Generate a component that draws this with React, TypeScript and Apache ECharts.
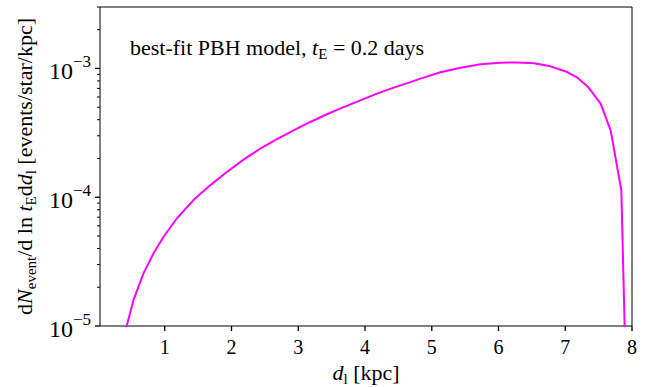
import React, { useEffect, useRef } from "react";
import * as echarts from "echarts";

// distance d_l [kpc]
const distances = [0.4, 0.53, 0.68, 0.83, 0.98, 1.18, 1.43, 1.68, 1.93, 2.18, 2.43, 2.68, 2.93, 3.18, 3.43, 3.68, 3.93, 4.18, 4.43, 4.68, 4.83, 5.13, 5.43, 5.73, 6.03, 6.28, 6.53, 6.78, 7.03, 7.18, 7.35, 7.53, 7.68, 7.84, 7.92];
// dN_event / dln t_E dd_l [events/star/kpc]
const rates = [8.7e-6, 1.58e-5, 2.55e-5, 3.65e-5, 4.91e-5, 6.84e-5, 9.5e-5, 1.236e-4, 1.57e-4, 1.96e-4, 2.38e-4, 2.82e-4, 3.3e-4, 3.84e-4, 4.41e-4, 5.01e-4, 5.65e-4, 6.37e-4, 7.1e-4, 7.83e-4, 8.34e-4, 9.33e-4, 1.014e-3, 1.076e-3, 1.109e-3, 1.114e-3, 1.096e-3, 1.038e-3, 9.38e-4, 8.49e-4, 7.1e-4, 5.33e-4, 3.31e-4, 1.13e-4, 2.3e-6];

const xTicks = [1, 2, 3, 4, 5, 6, 7, 8];
const yMajorExponents = [-5, -4, -3];
const yMinorMultipliers = [2, 3, 4, 5, 6, 7, 8, 9];
const X_MIN = 0.03;
const X_MAX = 8;
const Y_MIN = 1e-5;
const Y_MAX = 3e-3;

const FAMILY = "Liberation Serif";
const MAIN = 22;
const SUB = 15;

function tok(size: number, italic = false, pad?: number[]) {
  const o: any = {
    fontFamily: FAMILY,
    fontSize: size,
    color: "#000",
  };
  if (italic) o.fontStyle = "italic";
  if (pad) o.padding = pad;
  return o;
}

export default function App() {
  const ref = useRef<HTMLDivElement>(null);
  useEffect(() => {
    if (!ref.current) return;
    const chart = echarts.init(ref.current, null, { renderer: "svg" });
    const yMin = Math.log10(Y_MIN);
    const yMax = Math.log10(Y_MAX);
    const minorVals: number[] = [];
    yMajorExponents.forEach((e) => {
      yMinorMultipliers.forEach((k) => {
        const v = Math.log10(k * Math.pow(10, e));
        if (v <= yMax + 1e-9 && v >= yMin) minorVals.push(v);
      });
    });
    const data = distances.map((d, i) => [d, Math.log10(rates[i])]);
    const xTickData = xTicks.map((v) => [v, yMin]);
    const yMajorData = yMajorExponents.map((v) => [X_MIN, v]);
    const yMinorData = minorVals.map((v) => [X_MIN, v]);
    const rich = {
      r: tok(MAIN),
      i: tok(MAIN, true),
      s: tok(SUB, false, [13, 0, 0, 0]),
    };
    // tick marks drawn as thin rectangles placed through the axis scales
    const tickSeries = (d: number[][], vertical: boolean, len: number, w: number) => ({
      type: "custom",
      coordinateSystem: "cartesian2d",
      data: d,
      clip: false,
      silent: true,
      z: 10,
      renderItem: (params: any, api: any) => {
        const p = api.coord([api.value(0), api.value(1)]);
        const shape = vertical
          ? { x: p[0] - w / 2, y: p[1], width: w, height: len }
          : { x: p[0] - len, y: p[1] - w / 2, width: len, height: w };
        return { type: "rect", shape, style: { fill: "#000" } };
      },
    });
    chart.setOption({
      animation: false,
      title: {
        text: "{r|best-fit PBH model, }{i|t}{s|E}{r| = 0.2 days}",
        left: 130,
        top: 33,
        padding: 0,
        textStyle: { rich, fontFamily: FAMILY, fontSize: MAIN, color: "#000", fontWeight: "normal" },
      },
      grid: {
        left: 100,
        right: 23,
        top: 7,
        bottom: 61,
        containLabel: false,
        outerBoundsMode: "none",
        show: true,
        borderColor: "#000",
        borderWidth: 1,
      },
      xAxis: {
        type: "value",
        min: X_MIN,
        max: X_MAX,
        axisLine: { show: false },
        splitLine: { show: false },
        axisTick: { show: false },
        axisLabel: {
          customValues: xTicks,
          fontSize: 20,
          fontFamily: FAMILY,
          color: "#000",
          margin: 11,
        },
        name: "{i|d}{s|l}{r| [kpc]}",
        nameLocation: "middle",
        nameGap: 31,
        nameTextStyle: { rich, fontFamily: FAMILY, fontSize: MAIN, color: "#000" },
      },
      yAxis: {
        type: "value",
        min: yMin,
        max: yMax,
        position: "left",
        axisLine: { show: false },
        splitLine: { show: false },
        axisTick: { show: false },
        axisLabel: {
          customValues: yMajorExponents,
          margin: 9,
          color: "#000",
          formatter: (v: number) => `{b|10}{e|\u2212${Math.abs(Math.round(v))}}`,
          rich: {
            b: { fontFamily: FAMILY, fontSize: 24, color: "#000", padding: [6, 0, 0, 0] },
            e: { fontFamily: FAMILY, fontSize: 17, color: "#000", padding: [0, 0, 13, 0] },
          },
        },
        name: "{r|d}{i|N}{s|event}{r|/d ln }{i|t}{s|E}{r|d}{i|d}{s|l}{r| [events/star/kpc]}",
        nameLocation: "middle",
        nameRotate: 90,
        nameGap: 61,
        nameTextStyle: { rich, fontFamily: FAMILY, fontSize: MAIN, color: "#000" },
      },
      series: [
        {
          type: "line",
          data,
          showSymbol: false,
          symbol: "none",
          clip: true,
          lineStyle: { color: "#ff00ff", width: 2 },
          z: 3,
        },
        tickSeries(xTickData, true, 5, 1.3),
        tickSeries(yMajorData, false, 5, 1.3),
        tickSeries(yMinorData, false, 3, 1),
      ],
    });
    return () => chart.dispose();
  }, []);
  return (
    <div
      ref={ref}
      style={{ position: "absolute", left: 0, top: 0, width: 655, height: 387, background: "#fff" }}
    />
  );
}
